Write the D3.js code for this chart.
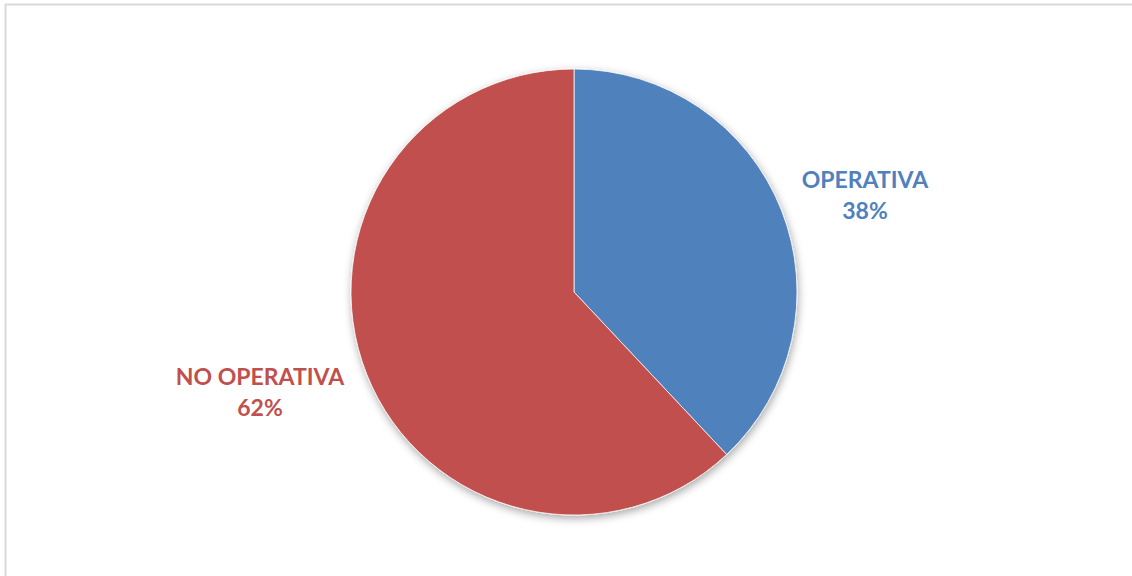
<!DOCTYPE html>
<html>
<head>
<meta charset="utf-8">
<script src="https://cdn.jsdelivr.net/npm/d3@7"></script>
<style>
  body { margin: 0; background: #fff; }
  svg { display: block; }
</style>
</head>
<body>
<div class="chart"></div>
<script>
'use strict';
var categories = ['OPERATIVA', 'NO OPERATIVA'];
var values = [38, 62];
var colors = ['#4F81BD', '#C0504D'];
var labelPos = [[865, 188], [260, 385]];

var width = 1132, height = 576;
var cx = 574, cy = 292, radius = 223;

var svg = d3.select('.chart').append('svg')
  .attr('width', width)
  .attr('height', height);

// chart frame (only top and left edges are visible in the crop)
svg.append('path')
  .attr('d', 'M5.5,' + height + 'V4.5H' + width)
  .attr('fill', 'none')
  .attr('stroke', '#d9d9d9')
  .attr('stroke-width', 2);

var defs = svg.append('defs');
var filter = defs.append('filter')
  .attr('id', 'shadow')
  .attr('x', '-10%').attr('y', '-10%')
  .attr('width', '120%').attr('height', '120%');
filter.append('feDropShadow')
  .attr('dx', 1)
  .attr('dy', 3)
  .attr('stdDeviation', 4)
  .attr('flood-color', '#000')
  .attr('flood-opacity', 0.35);

var pie = d3.pie().sort(null).value(function(d) { return d; });
var arc = d3.arc().innerRadius(0).outerRadius(radius);

var g = svg.append('g')
  .attr('transform', 'translate(' + cx + ',' + cy + ')')
  .attr('filter', 'url(#shadow)');

g.selectAll('path')
  .data(pie(values))
  .enter().append('path')
  .attr('d', arc)
  .attr('fill', function(d, i) { return colors[i]; })
  .attr('stroke', '#fff')
  .attr('stroke-width', 0.75);

var labels = svg.selectAll('.label')
  .data(categories)
  .enter().append('text')
  .attr('class', 'label')
  .attr('text-anchor', 'middle')
  .attr('x', function(d, i) { return labelPos[i][0]; })
  .attr('y', function(d, i) { return labelPos[i][1]; })
  .style('font-family', 'Lato, "Open Sans", sans-serif')
  .style('font-weight', 'bold')
  .style('font-size', '23px')
  .style('fill', function(d, i) { return colors[i]; });

labels.append('tspan')
  .attr('x', function(d, i) { return labelPos[i][0]; })
  .text(function(d) { return d; });
labels.append('tspan')
  .attr('x', function(d, i) { return labelPos[i][0]; })
  .attr('dy', 31)
  .text(function(d, i) { return values[i] + '%'; });
</script>
</body>
</html>
